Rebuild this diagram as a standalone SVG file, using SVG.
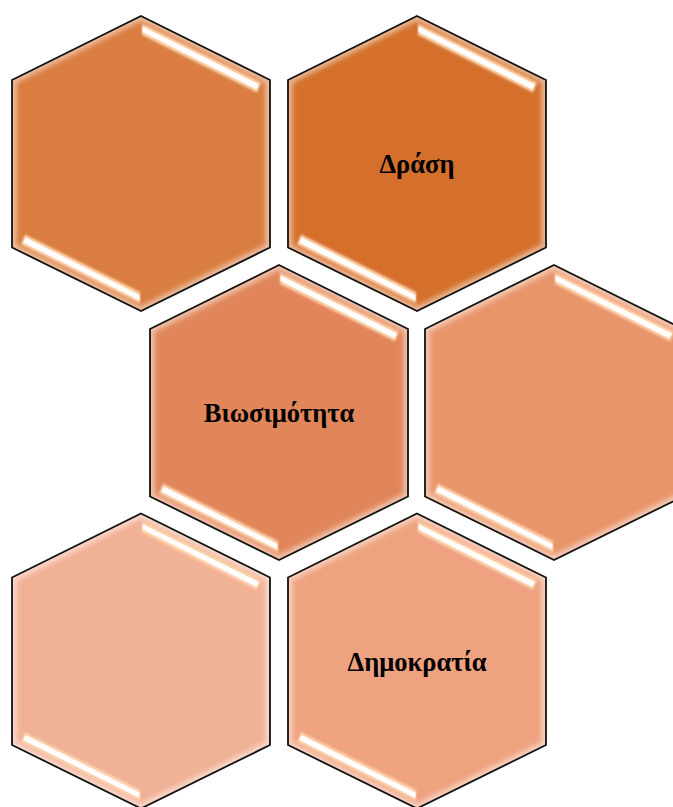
<svg xmlns="http://www.w3.org/2000/svg" xmlns:xlink="http://www.w3.org/1999/xlink" width="673" height="807" viewBox="0 0 673 807">
  <style>
    .lbl { font-family: "Liberation Serif", "Times New Roman", serif; font-weight: bold; font-size: 26.5px; fill: #000; text-anchor: middle; }
    .outline { fill: none; stroke: #111; stroke-width: 1.8; stroke-linejoin: miter; }
  </style>
  <defs>
    <path id="hex" d="M0,-147.5 L129,-83.5 L129,84 L0,147.5 L-129,84 L-129,-83.5 Z"/>
    <clipPath id="hexclip">
      <path d="M0,-147.5 L129,-83.5 L129,84 L0,147.5 L-129,84 L-129,-83.5 Z"/>
    </clipPath>
    <filter id="blur3" x="-20%" y="-20%" width="140%" height="140%">
      <feGaussianBlur stdDeviation="2.5"/>
    </filter>
    <filter id="blur1" x="-20%" y="-50%" width="140%" height="200%">
      <feGaussianBlur stdDeviation="1"/>
    </filter>
    <g id="glow" clip-path="url(#hexclip)">
      <path d="M0,-147.5 L129,-83.5 L129,84 L0,147.5 L-129,84 L-129,-83.5 Z" fill="none" stroke="#ffffff" stroke-opacity="0.5" stroke-width="9" filter="url(#blur3)"/>
    </g>
    <g id="gloss">
      <polygon points="1,-140 120,-81 116,-71 1,-128.5" fill="#ffd3ad" filter="url(#blur1)"/>
      <polygon points="1.5,-137 118,-79 115.5,-74 1.5,-131.5" fill="#ffffff"/>
    </g>
  </defs>

  <g id="hex1" transform="translate(141,163.5)">
    <use xlink:href="#hex" fill="#D97D40"/>
    <use xlink:href="#glow"/>
    <use xlink:href="#gloss"/>
    <use xlink:href="#gloss" transform="rotate(180)"/>
    <use xlink:href="#hex" class="outline"/>
  </g>

  <g id="hex2" transform="translate(417,163.5)">
    <use xlink:href="#hex" fill="#D4702B"/>
    <use xlink:href="#glow"/>
    <use xlink:href="#gloss"/>
    <use xlink:href="#gloss" transform="rotate(180)"/>
    <use xlink:href="#hex" class="outline"/>
    <text class="lbl" x="0" y="9.5">Δράση</text>
  </g>

  <g id="hex3" transform="translate(279,412.5)">
    <use xlink:href="#hex" fill="#E1865A"/>
    <use xlink:href="#glow"/>
    <use xlink:href="#gloss"/>
    <use xlink:href="#gloss" transform="rotate(180)"/>
    <use xlink:href="#hex" class="outline"/>
    <text class="lbl" x="0" y="9.5">Βιωσιμότητα</text>
  </g>

  <g id="hex4" transform="translate(554,412.5)">
    <use xlink:href="#hex" fill="#E8956B"/>
    <use xlink:href="#glow"/>
    <use xlink:href="#gloss"/>
    <use xlink:href="#gloss" transform="rotate(180)"/>
    <use xlink:href="#hex" class="outline"/>
  </g>

  <g id="hex5" transform="translate(141,661)">
    <use xlink:href="#hex" fill="#F1B197"/>
    <use xlink:href="#glow"/>
    <use xlink:href="#gloss"/>
    <use xlink:href="#gloss" transform="rotate(180)"/>
    <use xlink:href="#hex" class="outline"/>
  </g>

  <g id="hex6" transform="translate(417,661)">
    <use xlink:href="#hex" fill="#EEA280"/>
    <use xlink:href="#glow"/>
    <use xlink:href="#gloss"/>
    <use xlink:href="#gloss" transform="rotate(180)"/>
    <use xlink:href="#hex" class="outline"/>
    <text class="lbl" x="0" y="10">Δημοκρατία</text>
  </g>

  <g id="connectors"/>
</svg>
